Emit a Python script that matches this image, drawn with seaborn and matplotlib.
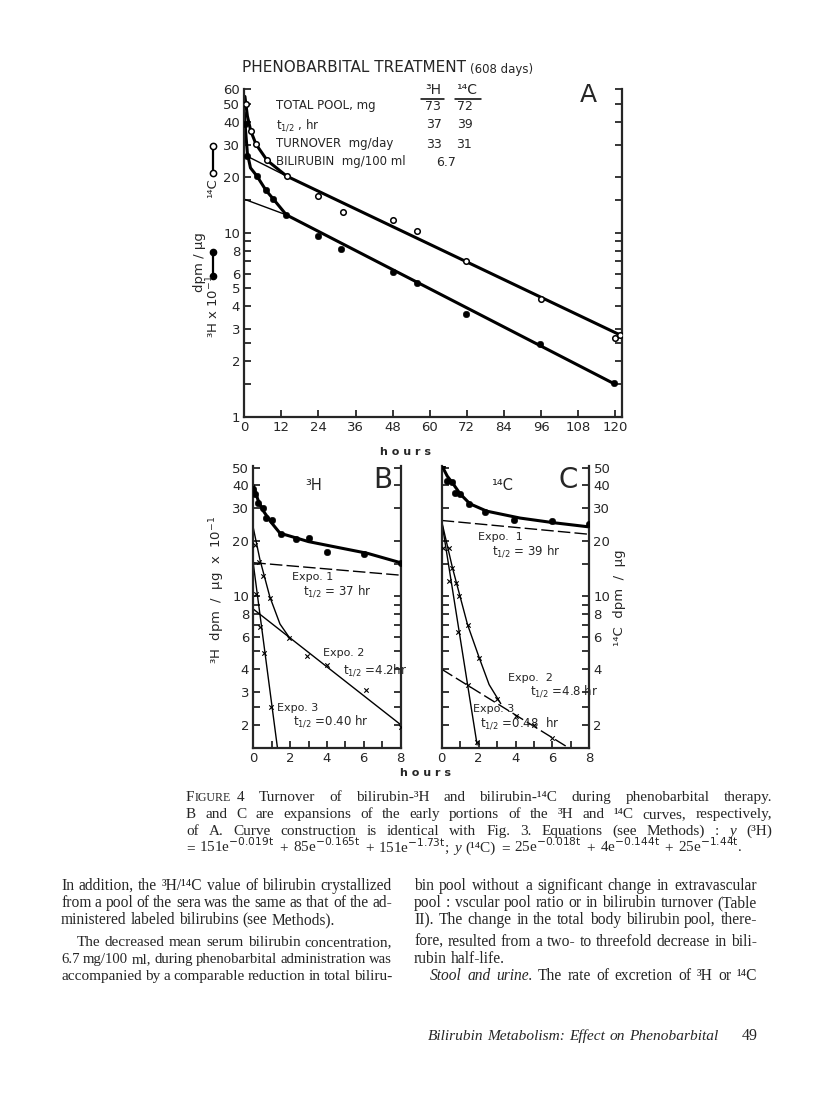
import numpy as np
import pandas as pd
import seaborn as sns
import matplotlib.pyplot as plt
from matplotlib.ticker import FixedLocator, FixedFormatter, NullLocator
from matplotlib.patches import Rectangle

# ---------------- panel A : 0-120 hr ----------------
a_c14_t = [0.5, 2.1, 3.8, 7.4, 13.7, 24, 31.8, 48.2, 56, 71.8, 96, 119.8, 121.5]
a_c14_y = [50, 35.7, 30.2, 24.7, 20.3, 15.9, 12.9, 11.7, 10.2, 7.0, 4.35, 2.68, 2.78]
a_h3_t = [0.3, 1.0, 4.1, 7.0, 9.3, 13.6, 24, 31.4, 48, 55.8, 71.6, 95.6, 119.7]
a_h3_y = [39, 26, 20.3, 17.0, 15.3, 12.5, 9.6, 8.2, 6.1, 5.3, 3.6, 2.48, 1.52]
# hand drawn fitted curves
a_c14_fit_t = [0.2, 1.0, 2.1, 3.8, 7.4, 13.7, 122.2]
a_c14_fit_y = [55, 43, 35.7, 30.2, 24.7, 20.3, 2.75]
a_c14_ext_t = [0, 13.7]
a_c14_ext_y = [26.5, 20.3]
a_h3_fit_t = [0.0, 0.4, 1.0, 2.0, 4.1, 7.0, 9.3, 13.6, 120]
a_h3_fit_y = [45, 36, 27, 22.5, 20.3, 17.0, 15.3, 12.5, 1.5]
a_h3_ext_t = [0, 13.6]
a_h3_ext_y = [15.2, 12.5]

# ---------------- panel B : 3H, first 8 hr ----------------
b_t = [0, 0.1, 0.25, 0.5, 0.67, 1.0, 1.5, 2.33, 3.0, 4.0, 6.0, 8.0]
b_y = [38.5, 36, 32, 30, 26.5, 26, 21.8, 20.5, 20.8, 17.3, 17.0, 15.2]
b_fit_t = [0, 0.25, 0.5, 1.0, 1.45, 2.0, 3.0, 4.36, 6.2, 8.0]
b_fit_y = [40, 33.5, 29.5, 25, 22.0, 21.2, 19.8, 18.6, 17.1, 15.2]
b_expo1_t, b_expo1_y = [0, 8], [15.2, 13.0]
b_expo2_t, b_expo2_y = [0, 8], [8.5, 2.0]
b_expo3_t, b_expo3_y = [0, 1.31], [15.0, 1.5]
b_sum23_t = [0, 0.36, 0.9, 1.45, 1.96]
b_sum23_y = [23.5, 15.8, 9.9, 7.05, 5.95]
b_res1_t = [0.1, 0.33, 0.55, 0.9, 1.95, 2.9, 4.0, 6.1, 8.0]
b_res1_y = [19.0, 15.4, 12.9, 9.8, 5.9, 4.7, 4.2, 3.08, 1.94]
b_res2_t = [0.13, 0.36, 0.58, 0.95]
b_res2_y = [10.3, 6.8, 4.9, 2.5]

# ---------------- panel C : 14C, first 8 hr ----------------
c_t = [0, 0.27, 0.58, 0.72, 1.0, 1.5, 2.35, 3.92, 5.96, 8.0]
c_y = [51, 42.3, 41.7, 36.5, 35.8, 31.6, 28.6, 25.9, 25.6, 24.8]
c_fit_t = [0, 0.3, 0.63, 1.0, 1.53, 2.44, 4.24, 6.05, 8.0]
c_fit_y = [51.5, 45, 40.7, 36, 31.8, 29.0, 26.6, 25.1, 23.8]
c_expo1_t, c_expo1_y = [0, 8], [25.8, 21.7]
c_expo2_t, c_expo2_y = [0, 6.85], [4.0, 1.5]
c_expo3_t, c_expo3_y = [0, 1.92], [25.5, 1.55]
c_sum23_t = [0, 0.58, 1.4, 2.04, 2.57, 3.2]
c_sum23_y = [25.5, 14.3, 7.0, 4.6, 3.3, 2.6]
c_res1_t = [0.37, 0.55, 0.78, 0.96, 1.4, 2.04, 3.0, 4.0, 5.0, 6.0]
c_res1_y = [18.3, 14.3, 11.8, 10.0, 7.0, 4.6, 2.74, 2.22, 1.98, 1.7]
c_res2_t = [0.05, 0.41, 0.86, 1.4, 1.9]
c_res2_y = [18.3, 12.1, 6.4, 3.3, 1.6]

# ticks
a_yticks = [1, 1.5, 2, 2.5, 3, 4, 5, 6, 7, 8, 9, 10, 15, 20, 30, 40, 50, 60]
a_ylabels = ['1', '', '2', '', '3', '4', '5', '6', '', '8', '', '10', '', '20', '30', '40', '50', '60']
a_xticks = list(range(0, 121, 12))
bc_yticks = [2, 2.5, 3, 4, 5, 6, 7, 8, 9, 10, 15, 20, 30, 40, 50]
b_ylabels = ['2', '', '3', '4', '', '6', '', '8', '', '10', '', '20', '30', '40', '50']
c_ylabels = ['2', '', '', '4', '', '6', '', '8', '', '10', '', '20', '30', '40', '50']
bc_xticks = list(range(0, 9))
bc_xlabels = ['0', '', '2', '', '4', '', '6', '', '8']

sns.set_style("ticks")
plt.rcParams['font.family'] = ['DejaVu Sans']
plt.rcParams['mathtext.fontset'] = 'dejavusans'

W, H = 816, 1100
fig = plt.figure(figsize=(W / 100, H / 100), dpi=100)


def box(l, t, r, b):
    return [l / W, 1 - b / H, (r - l) / W, (b - t) / H]


axA = fig.add_axes(box(244.3, 89.5, 622, 416.7))
axB = fig.add_axes(box(253.3, 466.1, 400.5, 747.5))
axC = fig.add_axes(box(441.7, 466.1, 589.3, 747.5))


def curve(ax, t, y, lw, dash=None):
    sns.lineplot(x=t, y=y, ax=ax, color='black', lw=lw, estimator=None, sort=False)
    if dash:
        ax.get_lines()[-1].set_dashes(dash)


def dots(ax, t, y, kind):
    if kind == 'filled':
        sns.scatterplot(x=t, y=y, ax=ax, color='black', s=22, edgecolor='black', zorder=5)
    elif kind == 'open':
        sns.scatterplot(x=t, y=y, ax=ax, color='white', s=16, edgecolor='black', linewidth=1.1, zorder=5)
    else:
        sns.scatterplot(x=t, y=y, ax=ax, marker='x', color='black', s=10, linewidth=0.8, zorder=5)


def style_axis(ax, yticks, ylabels, xticks, xlabels, side):
    ax.set_yscale('log')
    ax.yaxis.set_major_locator(FixedLocator(yticks))
    ax.yaxis.set_major_formatter(FixedFormatter(ylabels))
    ax.yaxis.set_minor_locator(NullLocator())
    ax.xaxis.set_major_locator(FixedLocator(xticks))
    ax.xaxis.set_major_formatter(FixedFormatter(xlabels))
    ax.xaxis.set_minor_locator(NullLocator())
    ax.tick_params(direction='in', length=5, width=1.3, labelsize=9.5, left=True, right=True,
                   top=False, labelleft=(side == 'left'), labelright=(side == 'right'), pad=3)
    ax.spines['top'].set_visible(False)
    for s in ['left', 'right', 'bottom']:
        ax.spines[s].set_linewidth(1.6)
    ax.set_xlabel('')
    ax.set_ylabel('')
    ax.set_facecolor('none')


for ax in (axA, axB, axC):
    ax.set_yscale('log')

# panel A
curve(axA, a_c14_ext_t, a_c14_ext_y, 1.0)
curve(axA, a_h3_ext_t, a_h3_ext_y, 1.0)
curve(axA, a_c14_fit_t, a_c14_fit_y, 2.2)
curve(axA, a_h3_fit_t, a_h3_fit_y, 2.2)
dots(axA, a_c14_t, a_c14_y, 'open')
dots(axA, a_h3_t, a_h3_y, 'filled')
style_axis(axA, a_yticks, a_ylabels, a_xticks, [str(v) for v in a_xticks], 'left')
axA.set_ylim(1, 60)
axA.set_xlim(0, 122.2)

# panel B
curve(axB, b_fit_t, b_fit_y, 2.2)
curve(axB, b_expo1_t, b_expo1_y, 1.0, dash=[9, 3])
curve(axB, b_expo2_t, b_expo2_y, 1.0)
curve(axB, b_expo3_t, b_expo3_y, 1.0)
curve(axB, b_sum23_t, b_sum23_y, 1.0)
dots(axB, b_t, b_y, 'filled')
dots(axB, b_res1_t, b_res1_y, 'x')
dots(axB, b_res2_t, b_res2_y, 'x')
style_axis(axB, bc_yticks, b_ylabels, bc_xticks, bc_xlabels, 'left')
axB.set_ylim(1.5, 51)
axB.set_xlim(0, 8)

# panel C
curve(axC, c_fit_t, c_fit_y, 2.2)
curve(axC, c_expo1_t, c_expo1_y, 1.0, dash=[9, 3])
curve(axC, c_expo2_t, c_expo2_y, 1.0, dash=[9, 3])
curve(axC, c_expo3_t, c_expo3_y, 1.0)
curve(axC, c_sum23_t, c_sum23_y, 1.0)
dots(axC, c_t, c_y, 'filled')
dots(axC, c_res1_t, c_res1_y, 'x')
dots(axC, c_res2_t, c_res2_y, 'x')
style_axis(axC, bc_yticks, c_ylabels, bc_xticks, bc_xlabels, 'right')
axC.set_ylim(1.5, 51)
axC.set_xlim(0, 8)

# overlay in page pixel coordinates
ov = fig.add_axes([0, 0, 1, 1])
ov.set_xlim(0, W)
ov.set_ylim(H, 0)
ov.axis('off')
ov.patch.set_visible(False)


def t(x, y, s, size=9, ha='left', **kw):
    return ov.text(x, y, s, fontsize=size, ha=ha, va='center', **kw)


# panel A texts
t(242, 68, 'PHENOBARBITAL TREATMENT', 11)
t(470, 70, '(608 days)', 8.5)
t(588, 95, 'A', 18, ha='center')
t(276, 106, 'TOTAL POOL, mg', 8.5)
t(276, 125, r't$_{1/2}$ , hr', 8.5)
t(276, 144, 'TURNOVER  mg/day', 8.5)
t(276, 162, 'BILIRUBIN  mg/100 ml', 8.5)
t(433, 90, '³H', 10, ha='center')
t(467, 90, '¹⁴C', 10, ha='center')
ov.plot([421, 444], [99, 99], color='black', lw=1.1)
ov.plot([455, 481], [99, 99], color='black', lw=1.1)
for x, v in [(433, '73'), (465, '72')]:
    t(x, 106, v, 9, ha='center')
for x, v in [(434, '37'), (465, '39')]:
    t(x, 125, v, 9, ha='center')
for x, v in [(434, '33'), (464, '31')]:
    t(x, 144, v, 9, ha='center')
t(446, 162, '6.7', 9, ha='center')
t(405, 452, 'h o u r s', 8, ha='center', fontweight='bold')

# key and y label of A
ov.plot([212.7, 212.7], [146, 173], color='black', lw=1.6, marker='o', mfc='white', mec='black', ms=4.5, mew=1.1)
ov.plot([212.7, 212.7], [252, 276], color='black', lw=1.6, marker='o', mfc='black', mec='black', ms=4.5)
t(213, 188, '¹⁴C', 9.5, ha='center', rotation=90)
t(213, 306, r'³H x 10$^{-1}$', 9.5, ha='center', rotation=90)
t(199, 262, 'dpm / µg', 9.5, ha='center', rotation=90)

# panel B / C texts
t(383, 480, 'B', 20, ha='center')
t(568, 480, 'C', 20, ha='center')
ov.add_patch(Rectangle((300, 477), 28, 16, fill=False, lw=1.3))
ov.add_patch(Rectangle((487, 477), 31, 16, fill=False, lw=1.3))
t(314, 485, '³H', 10.5, ha='center')
t(502.5, 485, '¹⁴C', 10.5, ha='center')
t(217, 590, r'³H  dpm  /  µg  x  10$^{-1}$', 9.5, ha='center', rotation=90)
t(620, 598, '¹⁴C  dpm  /  µg', 9.5, ha='center', rotation=90)
t(425, 773, 'h o u r s', 8, ha='center', fontweight='bold')

t(292, 577, 'Expo. 1', 8)
t(303, 591, r't$_{1/2}$ = 37 hr', 8.5)
t(323, 653, 'Expo. 2', 8)
t(343, 670, r't$_{1/2}$ =4.2hr', 8.5)
t(277, 708, 'Expo. 3', 8)
t(293, 721, r't$_{1/2}$ =0.40 hr', 8.5)
t(478, 537, 'Expo.  1', 8)
t(492, 551, r't$_{1/2}$ = 39 hr', 8.5)
t(508, 678, 'Expo.  2', 8)
t(530, 691, r't$_{1/2}$ =4.8 hr', 8.5)
t(473, 709, 'Expo. 3', 8)
t(480, 723, r't$_{1/2}$ =0.48  hr', 8.5)

# caption and body text, word by word so the lines are justified
rend = fig.canvas.get_renderer()
SERIF = ['Liberation Serif', 'DejaVu Serif']


def put_line(s, x0, x1, y, size=10, just=True, italic_all=False):
    words = s.split()
    while True:
        arts = []
        for w in words:
            st = 'italic' if (italic_all or w.startswith('*')) else 'normal'
            arts.append(ov.text(0, y + 4, w.lstrip('*'), fontsize=size, style=st,
                                family=SERIF, va='baseline'))
        widths = [a.get_window_extent(rend).width for a in arts]
        space = size * 0.25 / 0.72
        if just and len(words) > 1:
            gap = (x1 - x0 - sum(widths)) / (len(words) - 1)
        else:
            gap = space
        if gap >= space * 0.8 or size < 8:
            break
        for a in arts:
            a.remove()
        size -= 0.2
    x = x0
    for a, w in zip(arts, widths):
        a.set_x(x)
        x += w + gap


cap = 11
f1 = ov.text(186, 801, 'F', fontsize=cap, family=SERIF, va='baseline')
w1 = f1.get_window_extent(rend).width
f2 = ov.text(186 + w1, 801, 'IGURE', fontsize=cap * 0.78, family=SERIF, va='baseline')
xf = 186 + w1 + f2.get_window_extent(rend).width + 6
put_line('4   Turnover of bilirubin-³H and bilirubin-¹⁴C during phenobarbital therapy.',
         xf, 772, 797, cap)
put_line('B and C are expansions of the early portions of the ³H and ¹⁴C curves, respectively,',
         186, 772, 814, cap)
put_line('of A. Curve construction is identical with Fig. 3. Equations (see Methods) : *y (³H)',
         186, 772, 831, cap)
put_line(r'= 151e$^{-0.019\mathrm{t}}$ + 85e$^{-0.165\mathrm{t}}$ + 151e$^{-1.73\mathrm{t}}$;  *y  (¹⁴C) = '
         r'25e$^{-0.018\mathrm{t}}$ + 4e$^{-0.144\mathrm{t}}$ + 25e$^{-1.44\mathrm{t}}$.',
         186, 742, 848, cap)

left_lines = [
    ('In addition, the ³H/¹⁴C value of bilirubin crystallized', 61, True),
    ('from a pool of the sera was the same as that of the ad-', 61, True),
    ('ministered labeled bilirubins (see Methods).', 61, False),
    ('The decreased mean serum bilirubin concentration,', 77, True),
    ('6.7 mg/100 ml, during phenobarbital administration was', 61, True),
    ('accompanied by a comparable reduction in total biliru-', 61, True),
]
right_lines = [
    ('bin pool without a significant change in extravascular', 414, True),
    ('pool : vscular pool ratio or in bilirubin turnover (Table', 414, True),
    ('II). The change in the total body bilirubin pool, there-', 414, True),
    ('fore, resulted from a two- to threefold decrease in bili-', 414, True),
    ('rubin half-life.', 414, False),
    ('*Stool *and *urine.  The rate of excretion of ³H or ¹⁴C', 430, True),
]
body = 11.2
body_y = [886, 903, 920, 942, 959, 976]
for (s, x0, j), y in zip(left_lines, body_y):
    put_line(s, x0, 392, y, body, j)
for (s, x0, j), y in zip(right_lines, body_y):
    put_line(s, x0, 757, y, body, j)

put_line('Bilirubin Metabolism: Effect on Phenobarbital', 428, 718, 1036, 11.5, True, italic_all=True)
put_line('49', 742, 760, 1036, 11.5, False)

fig.savefig('out.png', dpi=100)
